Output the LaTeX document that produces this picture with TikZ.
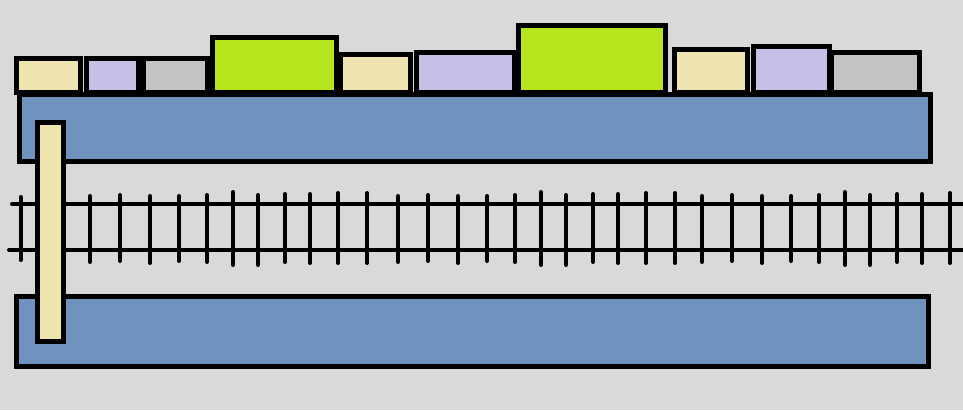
\documentclass[tikz,border=0pt]{standalone}
\usepackage{tikz}
\definecolor{bg}{HTML}{D9D9D9}
\definecolor{deck}{HTML}{6F92BE}
\definecolor{cream}{HTML}{EFE4B0}
\definecolor{lav}{HTML}{C8BFE7}
\definecolor{grey}{HTML}{C3C3C3}
\definecolor{lime}{HTML}{B5E61D}

\begin{document}
\begin{tikzpicture}[x=1pt,y=-1pt, line width=5pt, crate/.style={draw,fill=#1},
  rail/.style={line width=4pt,line cap=round}, sleeper/.style={line width=4pt,line cap=round}]
  \fill[bg] (0,0) rectangle (963,410);
  \useasboundingbox (0,0) rectangle (963,410);
  % cargo on the upper platform
  \draw[crate=cream] (16.5,58.5) rectangle (80.5,92.5);
  \draw[crate=lav] (86.5,58.5) rectangle (138.5,92.5);
  \draw[crate=grey] (143.5,58.5) rectangle (207.5,92.5);
  \draw[crate=lime] (212.5,37.5) rectangle (336.5,92.5);
  \draw[crate=cream] (340.5,54.5) rectangle (410.5,92.5);
  \draw[crate=lav] (416.5,52.5) rectangle (514.5,92.5);
  \draw[crate=lime] (518.5,25.5) rectangle (665.5,92.5);
  \draw[crate=cream] (674.5,49.5) rectangle (747.5,92.5);
  \draw[crate=lav] (753.5,46.5) rectangle (829.5,92.5);
  \draw[crate=grey] (831.5,52.5) rectangle (919.5,92.5);
  % platforms
  \draw[crate=deck] (19.5,94.5) rectangle (930.5,161.5);
  \draw[crate=deck] (16.5,296.5) rectangle (928.5,366.5);
  % track
  \foreach \sx/\st/\sb in {20.7/197/260,50/196/262,90/196/262,120/195/261,150/196/263,179/196/261,
    207/195/262,233/192/265,258/195/265,285/194/262,310/194/263,338/193/263,367/193/263,
    398/196/262,428/195/261,458/196/263,487/196/261,515/195/262,541/192/265,566/195/265,
    593/194/262,618/194/263,646/193/263,675/193/263,702/196/262,732/195/261,762/196/263,
    791/196/261,819/195/262,845/192/265,870/195/265,897/194/262,922/194/263,950/193/263}
    \draw[sleeper] (\sx,\st) -- (\sx,\sb);
  \draw[rail] (12,204) -- (970,204);
  \draw[rail] (9,250) -- (970,250);
  % post
  \draw[crate=cream] (37.5,122.5) rectangle (63.5,341.5);
\end{tikzpicture}
\end{document}
